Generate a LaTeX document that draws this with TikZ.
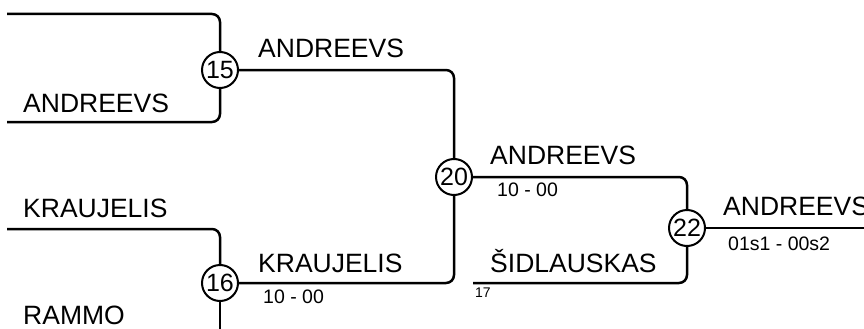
\documentclass[tikz,border=0pt]{standalone}
\usepackage{fontspec}
\setmainfont{Liberation Sans}
\begin{document}
\begin{tikzpicture}[x=1pt,y=-1pt,
  wireline/.style={line width=2.5pt, rounded corners=8pt},
  matchnode/.style={circle, draw, line width=2pt, fill=white, minimum size=36pt, inner sep=0pt, font=\fontsize{25}{25}\selectfont},
  playername/.style={anchor=base west, inner sep=0pt, font=\fontsize{26.5}{26.5}\selectfont},
  scoretext/.style={anchor=base west, inner sep=0pt, font=\fontsize{19.5}{19.5}\selectfont},
  seedtext/.style={anchor=base west, inner sep=0pt, font=\fontsize{14}{14}\selectfont}]
\useasboundingbox (0,0) rectangle (864,329);
\clip (0,0) rectangle (864,329);
\node[matchnode] (m15) at (220,70) {15};
\node[matchnode] (m16) at (220,283) {16};
\node[matchnode] (m20) at (454,177) {20};
\node[matchnode] (m22) at (687,228) {22};
\coordinate (a1) at (7,14);
\coordinate (a2) at (7,122);
\coordinate (b1) at (7,229);
\coordinate (b2) at (220,345);
\coordinate (c2) at (473,283);
\coordinate (out) at (870,228);
\draw[wireline] (a1) -| (m15);
\draw[wireline] (a2) -| (m15);
\draw[wireline] (b1) -| (m16);
\draw[wireline] (b2) -- (m16);
\draw[wireline] (m15) -| (m20);
\draw[wireline] (m16) -| (m20);
\draw[wireline] (m20) -| (m22);
\draw[wireline] (c2) -| (m22);
\draw[wireline] (m22) -- (out);
\node[playername] (l1) at (23,112) {ANDREEVS};
\node[playername] (l2) at (258,57) {ANDREEVS};
\node[playername] (l3) at (23,217) {KRAUJELIS};
\node[playername] (l4) at (258,272) {KRAUJELIS};
\node[scoretext] (s4) at (263,303) {10 - 00};
\node[playername] (l5) at (23,324) {RAMMO};
\node[playername] (l6) at (490,164) {ANDREEVS};
\node[scoretext] (s6) at (497,196) {10 - 00};
\node[playername] (l7) at (490,272) {ŠIDLAUSKAS};
\node[seedtext] (s7) at (475,297) {17};
\node[playername] (l8) at (723,215) {ANDREEVS};
\node[scoretext] (s8) at (728,250) {01s1 - 00s2};
\end{tikzpicture}
\end{document}
